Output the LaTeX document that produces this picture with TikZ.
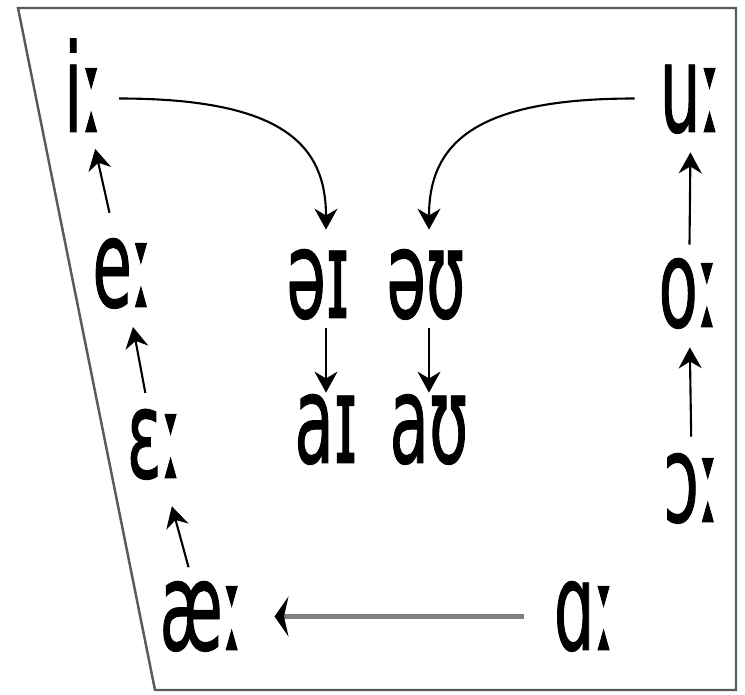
\documentclass[tikz,border=0pt]{standalone}
\usepackage{fontspec}
\setmainfont{DejaVu Sans}[FakeStretch=0.52, FakeBold=0.7]
\usetikzlibrary{arrows.meta}
\definecolor{cadre}{RGB}{90,90,90}
\definecolor{gris}{RGB}{128,128,128}
\tikzset{
  voyelle/.style={anchor=base, inner sep=0pt, text height=1.34cm, text depth=0pt,
    font=\fontsize{70}{80}\selectfont},
  fleche/.style={-{Stealth[length=0.42cm,width=0.46cm]}, line width=1.2pt},
}
\begin{document}
\begin{tikzpicture}[x=0.02cm, y=-0.02cm]
  \useasboundingbox (0,0) rectangle (745,695);
  \fill[white] (0,0) rectangle (745,695);
  % cadre du trapeze vocalique
  \draw[cadre, line width=1.4pt] (18,8) -- (736,8) -- (736,690) -- (155,690) -- cycle;
  % voyelles longues
  \node[voyelle] (i) at (84,132) {iː};
  \node[voyelle] (u) at (691,132) {uː};
  \node[voyelle] (e) at (123,307) {eː};
  \node[voyelle] (o) at (689,327) {oː};
  \node[voyelle] (eps) at (155,478) {ɛː};
  \node[voyelle] (oo) at (692,522) {ɔː};
  \node[voyelle] (ae) at (202,650) {æː};
  \node[voyelle] (aa) at (585,650) {ɑː};
  % diphtongues
  \node[voyelle] (schwaI) at (318,318) {əɪ};
  \node[voyelle] (schwaU) at (426,318) {əʊ};
  \node[voyelle] (aI) at (326,463) {aɪ};
  \node[voyelle] (aU) at (429,463) {aʊ};
  % montee des voyelles
  \draw[fleche, shorten <=0.55cm, shorten >=0.34cm] (e) -- (i);
  \draw[fleche, shorten <=0.36cm, shorten >=0.4cm] (eps) -- (e);
  \draw[fleche, shorten <=0.32cm, shorten >=0.58cm] (ae) -- (eps);
  \draw[fleche, shorten <=0.36cm, shorten >=0.4cm] (oo) -- (o);
  \draw[fleche, shorten <=0.3cm, shorten >=0.4cm] (o) -- (u);
  \draw[gris, line width=2.8pt, -{Stealth[length=0.28cm,width=0.8cm,color=black]},
    shorten <=0.6cm, shorten >=0.6cm] (aa) -- (ae);
  % diphtongaison
  \draw[fleche, shorten <=0.3cm, shorten >=0.42cm] (i)
    to[out=0, in=90, out looseness=1.7] (aI.north |- schwaI.north);
  \draw[fleche, shorten <=0.5cm, shorten >=0.42cm] (u)
    to[out=180, in=90, out looseness=1.7] (aU.north |- schwaU.north);
  \draw[fleche, shorten <=0.2cm, shorten >=0.06cm] (aI.north |- schwaI.south) -- (aI.north);
  \draw[fleche, shorten <=0.2cm, shorten >=0.06cm] (aU.north |- schwaU.south) -- (aU.north);
\end{tikzpicture}
\end{document}
